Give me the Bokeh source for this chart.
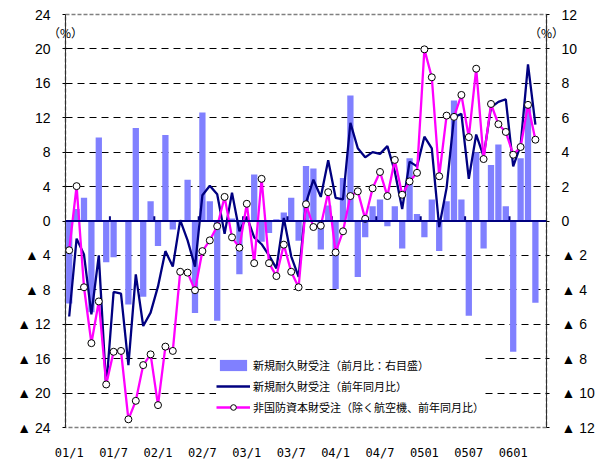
from bokeh.plotting import figure
from bokeh.models import (Range1d, LinearAxis, FixedTicker, Span, Legend, LegendItem,
                          ColumnDataSource)
from bokeh.embed import file_html
from bokeh.resources import INLINE

# ---------------- data (monthly, 2001/1 .. 2006/4) ----------------
# 新規耐久財受注（前月比：右目盛）
durable_mom = [-4.8, 0.7, 1.35, -5.3, 4.85, -2.4, -2.1, -0.05, -4.85, 5.4,
               -4.4, 1.15, -1.45, 5.0, -0.5, 0.05, 2.4, -5.35, 6.3, 1.15,
               -5.8, -0.05, 0.15, -3.1, 0.05, 2.7, -1.2, -0.7, 0.1, 0.5,
               1.35, -1.15, 3.2, 3.05, -1.65, 0.9, -3.95, 2.5, 7.3, -3.25,
               -0.95, 0.85, 1.25, -0.3, 0.85, -1.6, 3.65, 0.4, -0.95, 1.25,
               -1.75, 1.15, 7.0, 1.25, -5.5, 4.0, -1.6, 3.25, 4.45, 0.85,
               -7.6, 3.65, 6.85, -4.75]
# 新規耐久財受注（前年同月比）
durable_yoy = [-11.1, -2.05, -3.9, -10.85, -4.0, -19.4, -8.25, -8.45, -16.75, -6.2,
               -12.2, -10.65, -7.6, -3.5, -5.3, 0.1, -2.25, -5.3, 3.0, 4.1,
               3.1, -1.5, 3.3, -1.2, 0.5, -1.9, -2.7, -4.0, -5.5, 0.35,
               -4.1, -6.5, 2.1, 4.8, 2.8, 7.05, 2.7, 2.5, 11.4, 8.45,
               7.4, 8.0, 7.8, 8.7, 5.75, 1.4, 6.9, 6.35, 9.8, 8.45,
               -0.7, 3.85, 12.05, 12.45, 4.9, 10.05, 7.5, 13.2, 13.85, 14.15,
               6.35, 8.8, 18.2, 11.2]
# 非国防資本財受注（除く航空機、前年同月比）
nondef_yoy = [-3.4, 4.05, -7.7, -14.2, -9.35, -19.0, -15.2, -15.1, -23.05, -20.9,
              -16.75, -15.5, -21.4, -14.6, -15.1, -5.9, -6.0, -8.05, -3.5, -2.25,
              -0.6, 2.8, -1.9, -3.1, 2.0, -4.9, 4.9, -4.9, -6.4, -2.75,
              -5.9, -7.7, 1.95, -0.7, -0.55, 3.35, -3.65, -1.2, 2.9, 3.45,
              0.25, 3.8, 5.7, 2.9, 7.1, 3.05, 4.6, 5.6, 19.95, 16.7,
              5.2, 12.25, 12.1, 14.65, 9.75, 17.7, 7.2, 13.6, 11.25, 10.35,
              7.7, 8.6, 13.5, 9.45]

x_tick_labels = ["01/1", "01/7", "02/1", "02/7", "03/1", "03/7",
                 "04/1", "04/7", "0501", "0507", "0601"]
label_step = 6
left_ticks = list(range(-24, 25, 4))
right_ticks = list(range(-12, 13, 2))

legend_labels = ["新規耐久財受注（前月比：右目盛）",
                 "新規耐久財受注（前年同月比）",
                 "非国防資本財受注（除く航空機、前年同月比）"]
unit_label = "（%）"

n = len(durable_mom)
x = list(range(n))
src = ColumnDataSource(dict(x=x, mom=durable_mom, yoy=durable_yoy, nd=nondef_yoy))

NAVY = "#000080"
MAG = "#FF00FF"
BAR = "#8080FF"

x_lo, x_hi = -0.5, n + 0.5
p = figure(width=600, height=462, output_backend="svg", toolbar_location=None,
           x_range=Range1d(x_lo, x_hi), y_range=Range1d(-24, 24),
           min_border_left=65, min_border_right=54, min_border_top=14, min_border_bottom=29)
p.extra_y_ranges = {"right": Range1d(-12, 12)}
p.background_fill_color = "white"
p.border_fill_color = "white"
p.outline_line_color = "#808080"
p.outline_line_dash = "4 2"
p.outline_line_width = 1.5

def fmt(v, mark="▲ "):
    return mark + str(abs(v)) if v < 0 else str(v)

ya = p.yaxis[0]
ya.ticker = FixedTicker(ticks=left_ticks)
ya.major_label_overrides = {v: fmt(v) for v in left_ticks}
ya.major_label_text_font = "Liberation Sans"
ya.major_label_text_font_size = "14px"
ya.major_label_text_color = "black"
ya.major_label_standoff = 12
ya.major_tick_out = 3
ya.major_tick_in = 0
ya.minor_tick_line_color = None
ya.axis_line_color = "#303030"

ra = LinearAxis(y_range_name="right", ticker=FixedTicker(ticks=right_ticks))
ra.major_label_overrides = {v: fmt(v) for v in right_ticks}
ra.major_label_text_font = "Liberation Sans"
ra.major_label_text_font_size = "14px"
ra.major_label_text_color = "black"
ra.major_label_standoff = 12
ra.major_tick_out = 3
ra.major_tick_in = 0
ra.minor_tick_line_color = None
ra.axis_line_color = "#303030"
p.add_layout(ra, "right")

xa = p.xaxis[0]
xpos = [i * label_step for i in range(len(x_tick_labels))]
xa.ticker = FixedTicker(ticks=xpos)
xa.major_label_overrides = {v: t for v, t in zip(xpos, x_tick_labels)}
xa.major_label_text_font = "DejaVu Sans Mono"
xa.major_label_text_font_size = "12px"
xa.major_label_text_color = "black"
xa.major_tick_line_color = None
xa.minor_tick_line_color = None
xa.axis_line_color = None
xa.major_label_standoff = 12

# "(%)" unit marks at the top of both value axes, as labels of a bare top axis
ua = LinearAxis(ticker=FixedTicker(ticks=[x_lo, x_hi]))
ua.major_label_overrides = {x_lo: unit_label, x_hi: unit_label}
ua.major_label_text_font = "Noto Sans CJK JP"
ua.major_label_text_font_size = "12px"
ua.major_label_text_color = "black"
ua.major_label_standoff = -32
ua.major_tick_line_color = None
ua.minor_tick_line_color = None
ua.axis_line_color = None
p.add_layout(ua, "above")

p.xgrid.grid_line_color = None
p.ygrid.ticker = FixedTicker(ticks=[v for v in left_ticks if abs(v) < 24 and v != 0])
p.ygrid.grid_line_color = "black"
p.ygrid.grid_line_dash = "7 5"
p.ygrid.grid_line_width = 1

# glyphs
bars = p.vbar(x="x", top="mom", width=0.85, source=src, y_range_name="right",
              fill_color=BAR, line_color=None)
p.add_layout(Span(location=0, dimension="width", line_color=NAVY, line_width=2))
bnd = [i * label_step - 0.5 for i in range(1, len(x_tick_labels))]
p.segment(x0=bnd, y0=[0] * len(bnd), x1=bnd, y1=[0.55] * len(bnd),
          line_color=NAVY, line_width=2)
l1 = p.line(x="x", y="yoy", source=src, line_color=NAVY, line_width=2.3)
l2 = p.line(x="x", y="nd", source=src, line_color=MAG, line_width=2.3)
s2 = p.scatter(x="x", y="nd", source=src, marker="circle", size=7,
               fill_color="white", line_color="black", line_width=1)

legend = Legend(items=[LegendItem(label=legend_labels[0], renderers=[bars]),
                       LegendItem(label=legend_labels[1], renderers=[l1]),
                       LegendItem(label=legend_labels[2], renderers=[l2, s2])],
                location=(151, 12), orientation="vertical",
                background_fill_color="white", background_fill_alpha=1,
                border_line_color=None, padding=8, margin=0, spacing=5,
                glyph_width=34, glyph_height=14, label_height=14, label_standoff=3,
                label_text_font="Noto Sans CJK JP", label_text_font_size="11px",
                label_text_color="black")
p.add_layout(legend, "center")

open("out.html", "w").write(file_html(p, INLINE))
